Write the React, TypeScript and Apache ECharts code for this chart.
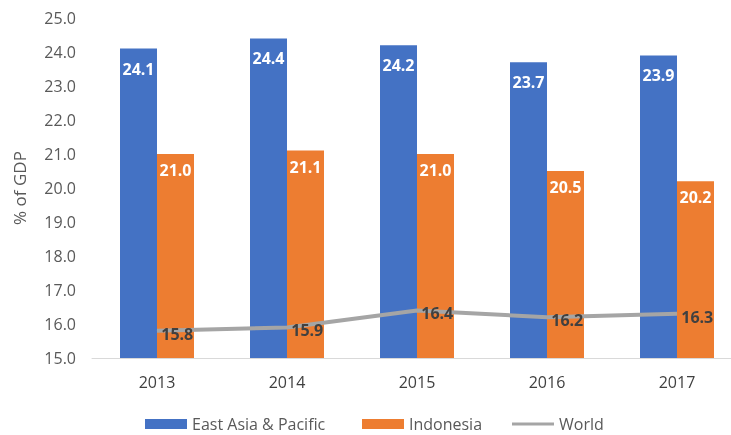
import React, { useEffect, useRef } from "react";
import * as echarts from "echarts";

const years = ["2013", "2014", "2015", "2016", "2017"];
const eastAsia = [24.1, 24.4, 24.2, 23.7, 23.9];
const indonesia = [21.0, 21.1, 21.0, 20.5, 20.2];
const world = [15.8, 15.9, 16.4, 16.2, 16.3];

const FONT = "Open Sans";

const legendText = { color: "#595959", fontSize: 16, fontFamily: FONT };

export default function App() {
  const ref = useRef<HTMLDivElement>(null);
  useEffect(() => {
    const chart = echarts.init(ref.current!, null, { renderer: "svg" });
    chart.setOption({
      animation: false,
      textStyle: { fontFamily: FONT },
      grid: { left: 92, width: 650, top: 18, bottom: 77, outerBoundsMode: "none" },
      legend: [
        {
          top: 411,
          left: 140,
          itemWidth: 42,
          itemHeight: 10,
          textStyle: legendText,
          data: [{ name: "East Asia & Pacific", icon: "rect" }],
        },
        {
          top: 411,
          left: 357,
          itemWidth: 42,
          itemHeight: 10,
          textStyle: legendText,
          data: [{ name: "Indonesia", icon: "rect" }],
        },
        {
          top: 411,
          left: 507,
          itemWidth: 42,
          itemHeight: 10,
          textStyle: legendText,
          data: [
            {
              name: "World",
              icon: "path://M0,3.5 L42,3.5 L42,6.5 L0,6.5 Z",
              itemStyle: { color: "#a5a5a5", opacity: 1 },
            },
          ],
        },
      ],
      xAxis: {
        type: "category",
        data: years,
        axisLine: { lineStyle: { color: "#d9d9d9", width: 1 } },
        axisTick: { show: false },
        axisLabel: { color: "#404040", fontSize: 16, margin: 16, fontFamily: FONT },
      },
      yAxis: {
        type: "value",
        min: 15,
        max: 25,
        interval: 1,
        name: "% of GDP",
        nameLocation: "middle",
        nameGap: 64,
        nameRotate: 90,
        nameTextStyle: { color: "#595959", fontSize: 17, fontFamily: FONT },
        splitLine: { show: false },
        axisLine: { show: false },
        axisTick: { show: false },
        axisLabel: {
          color: "#595959",
          fontSize: 16,
          margin: 16,
          fontFamily: FONT,
          formatter: (v: number) => v.toFixed(1),
        },
      },
      series: [
        {
          name: "East Asia & Pacific",
          type: "bar",
          data: eastAsia,
          barWidth: 37,
          barGap: "0%",
          itemStyle: { color: "#4472c4" },
          label: {
            show: true,
            position: "insideTop",
            distance: 12,
            color: "#ffffff",
            fontWeight: "bold",
            fontSize: 16,
            fontFamily: FONT,
            formatter: (p: any) => p.value.toFixed(1),
          },
        },
        {
          name: "Indonesia",
          type: "bar",
          data: indonesia,
          barWidth: 37,
          barGap: "0%",
          itemStyle: { color: "#ed7d31" },
          label: {
            show: true,
            position: "insideTop",
            distance: 8,
            color: "#ffffff",
            fontWeight: "bold",
            fontSize: 16,
            fontFamily: FONT,
            formatter: (p: any) => p.value.toFixed(1),
          },
        },
        {
          name: "World",
          type: "line",
          data: world,
          symbol: "circle",
          symbolSize: 0.5,
          showSymbol: true,
          lineStyle: { color: "#a5a5a5", width: 4 },
          itemStyle: { color: "#a5a5a5" },
          label: {
            show: true,
            position: "right",
            distance: 4,
            offset: [0, 3],
            color: "#404040",
            fontWeight: "bold",
            fontSize: 16,
            fontFamily: FONT,
            formatter: (p: any) => p.value.toFixed(1),
          },
          z: 5,
        },
      ],
    });
    return () => chart.dispose();
  }, []);
  return (
    <div
      ref={ref}
      style={{ position: "fixed", left: 0, top: 0, width: 731, height: 435 }}
    />
  );
}
